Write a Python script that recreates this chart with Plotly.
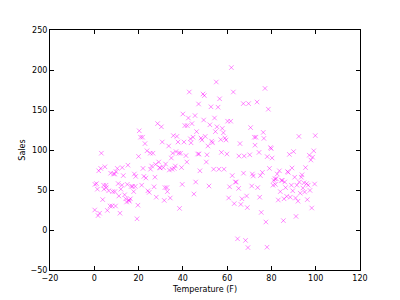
import plotly.graph_objects as go

temperature = [
    0.2, 0.3, 1.0, 1.4, 1.7, 2.0, 2.4, 2.9, 3.2, 3.8, 4.2, 4.4, 4.8, 5.3, 5.4, 5.9, 6.5, 7.1, 7.4, 8.0,
    8.3, 8.7, 9.2, 9.3, 9.6, 9.8, 10.4, 10.8, 11.1, 11.6, 12.0, 12.5, 12.6, 13.1, 13.7, 14.2, 14.6, 14.9, 15.2, 15.7,
    15.8, 16.3, 16.7, 17.3, 17.8, 18.1, 18.5, 18.7, 19.3, 19.7, 20.0,
    20.3, 20.9, 21.4, 21.8, 22.0, 22.4, 22.9, 23.3, 23.8, 24.2, 24.8, 25.3, 25.4, 25.9, 26.5, 27.0, 27.4, 27.7, 28.0,
    28.6, 29.1, 29.5, 29.8, 30.3, 30.7, 31.2, 31.6, 31.9, 32.2, 32.8, 33.0, 33.6, 33.9, 34.3, 34.8, 35.1, 35.4, 35.7,
    36.1, 36.6, 36.9, 37.3, 37.8, 38.2, 38.5, 39.0, 39.4, 39.7, 40.0,
    40.5, 40.9, 41.4, 41.8, 42.0, 42.5, 42.9, 43.4, 43.7, 44.1, 44.6, 45.0, 45.5, 45.8, 46.2, 46.7, 47.1, 47.3, 47.7,
    48.2, 48.6, 49.1, 49.4, 49.7, 50.1, 50.6, 50.9, 51.3, 51.8, 52.2, 52.7, 53.0, 53.4, 53.9, 54.3, 54.7, 55.1, 55.4,
    55.9, 56.3, 56.6, 57.1, 57.4, 57.8, 58.3, 58.6, 59.0, 59.5, 59.9,
    60.2, 60.7, 61.1, 61.6, 61.9, 62.3, 62.8, 63.2, 63.7, 64.1, 64.7, 65.2, 65.3, 65.8, 66.2, 66.7, 67.3, 67.4, 67.7,
    68.3, 68.8, 69.1, 69.4, 69.7, 70.2, 70.6, 71.1, 71.4, 71.8, 72.3, 72.6, 73.0, 73.5, 73.8, 74.4, 74.7, 75.0, 75.4,
    75.9, 76.3, 76.6, 77.1, 77.5, 78.0, 78.1, 78.6, 79.1, 79.6, 79.9, 80.3,
    80.7, 81.1, 81.6, 81.8, 82.2, 82.6, 83.1, 83.6, 84.0, 84.5, 84.9, 85.4, 85.7, 86.0, 86.4, 86.9, 87.3, 87.6, 88.1,
    88.5, 89.0, 89.3, 89.6, 90.0, 90.5, 90.9, 91.1, 91.5, 92.0, 92.4, 92.6, 93.0, 93.5, 93.8, 94.2, 94.7, 95.0, 95.4,
    95.9, 96.2, 96.6, 97.1, 97.4, 97.8, 98.2, 98.6, 99.1, 99.5, 99.8,
]

sales = [
    25, 57, 58, 51, 18, 74, 21, 77, 96, 38, 56, 51, 79, 56, 53, 24.5, 49, 30, 71, 30,
    48, 70, 70, 48, 30, 73, 77, 58, 42.5, 21, 51, 56, 78, 68, 44, 39, 35, 57, 81, 37.5,
    36, 39, 54.5, 54.5, 48, 70, 54.5, 67, 14, 31, 92,
    124, 116, 56, 116, 77, 67, 108, 65, 99, 49, 47, 96, 76, 80, 96, 54, 66, 82, 41,
    133, 85, 78, 77.5, 129, 110, 78, 37, 53, 82.5, 53, 48, 105, 75, 40, 90, 76, 96, 118,
    77, 80, 98, 117, 110, 96, 27, 96, 78, 57, 145,
    110, 130.5, 93, 85, 130.5, 140, 172.5, 114, 109, 133, 116, 45, 143, 60, 123, 95, 157.5, 95, 74,
    115, 112.5, 170, 137.5, 168, 117, 85, 94, 105, 55, 131.5, 154, 111, 109, 76, 140, 123, 185, 129,
    153.5, 76, 164, 113, 97, 127, 121.5, 76, 115, 112.5, 95,
    136, 40, 54, 136, 203, 68, 172.5, 33, 60, 60, -11, 52, 92.5, 108, 32, 39, 158, 71, 92.5,
    -13, 42.5, 28, -22, 158, 94, 128, 55, 70, 67.5, 116, 106, 116, 160, 53, 97, 41, 68, 22,
    72, 122, 114.5, 177, 10, -21.5, 91.7, 151, 77, 103, 101.7, 90,
    56, 62, 64, 57, 64, 70, 37.5, 74, 48, 62, 62, 11.7, 39, 60, 53, 42, 73, 72, 94.5,
    41, 56, 77.5, 49, 98, 66, 40, 17, 56, 36, 117, 60, 46, 66, 69, 52.5, 59, 47.5, 78,
    58, 38, 56, 93.5, 49.5, 87.5, 27.5, 91, 99, 57.5, 118,
]

x_ticks = [-20, 0, 20, 40, 60, 80, 100, 120]
y_ticks = [-50, 0, 50, 100, 150, 200, 250]


def lbl(v):
    return ("\u2212" + str(-v)) if v < 0 else str(v)


fig = go.Figure()
fig.add_trace(go.Scatter(
    x=temperature, y=sales, mode="markers",
    marker=dict(symbol="x-thin", size=4.5,
                line=dict(width=1, color="rgba(255,0,255,0.45)"),
                color="rgba(255,0,255,0.45)"),
    showlegend=False, hoverinfo="skip",
))

axis_common = dict(
    showline=True, linecolor="black", linewidth=1, mirror="ticks",
    ticks="inside", ticklen=4, tickwidth=1, tickcolor="black",
    showgrid=False, zeroline=False, automargin=False,
    tickfont=dict(family="DejaVu Sans", size=8, color="black"),
)

fig.update_layout(
    width=400, height=300,
    margin=dict(l=50, r=40, t=30, b=30),
    paper_bgcolor="white", plot_bgcolor="white",
    xaxis=dict(range=[-20, 120], tickvals=x_ticks, ticktext=[lbl(v) for v in x_ticks],
               title=dict(text="Temperature (F)", font=dict(family="DejaVu Sans", size=8, color="black"),
                          standoff=4),
               **axis_common),
    yaxis=dict(range=[-50, 250], tickvals=y_ticks, ticktext=[lbl(v) for v in y_ticks],
               title=dict(text="Sales", font=dict(family="DejaVu Sans", size=8, color="black"),
                          standoff=3),
               **axis_common),
)

fig.write_html("out.html")
